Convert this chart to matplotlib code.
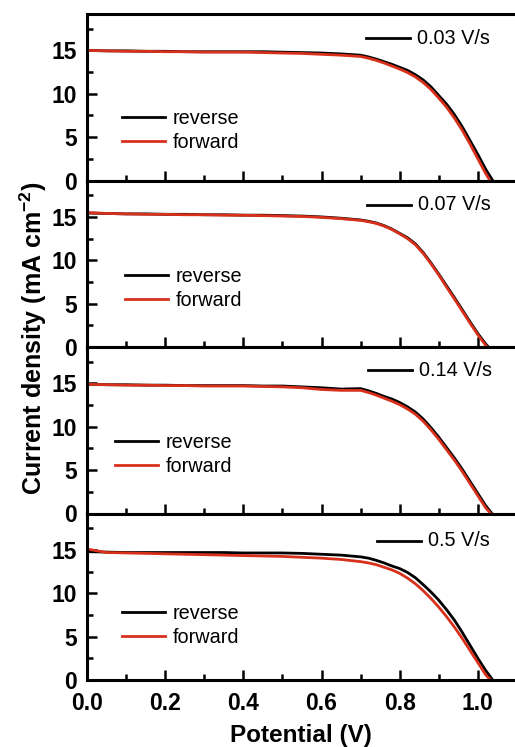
import matplotlib
matplotlib.use("Agg")
import matplotlib.pyplot as plt
from matplotlib.ticker import MultipleLocator

plt.rcParams['font.family'] = ['Liberation Sans', 'DejaVu Sans']
plt.rcParams['mathtext.fontset'] = 'custom'
plt.rcParams['mathtext.rm'] = 'Liberation Sans'
plt.rcParams['mathtext.bf'] = 'Liberation Sans:bold'

# voltage grid (V), each curve ends at its own Voc where J = 0
V = [0.00, 0.05, 0.10, 0.15, 0.20, 0.25, 0.30, 0.35, 0.40, 0.45, 0.50, 0.55, 0.60, 0.65, 0.70,
     0.72, 0.74, 0.76, 0.78, 0.80, 0.82, 0.84, 0.86, 0.88, 0.90, 0.92, 0.94, 0.96, 0.98, 1.00, 1.02]

scan_rates = ['0.03 V/s', '0.07 V/s', '0.14 V/s', '0.5 V/s']

rev_j = [
    [15.0, 14.95, 14.95, 14.9, 14.9, 14.85, 14.85, 14.85, 14.85, 14.85, 14.8, 14.75, 14.7, 14.6, 14.45,
     14.25, 14.0, 13.7, 13.4, 13.05, 12.7, 12.2, 11.6, 10.8, 9.8, 8.8, 7.6, 6.2, 4.6, 3.0, 1.3],
    [15.45, 15.4, 15.35, 15.35, 15.3, 15.3, 15.25, 15.25, 15.2, 15.2, 15.15, 15.1, 15.0, 14.85, 14.65,
     14.5, 14.3, 14.0, 13.6, 13.1, 12.6, 11.9, 10.9, 9.7, 8.4, 7.05, 5.7, 4.3, 2.9, 1.55, 0.35],
    [14.9, 14.85, 14.85, 14.8, 14.8, 14.75, 14.75, 14.75, 14.75, 14.7, 14.7, 14.6, 14.5, 14.35, 14.4,
     14.15, 13.85, 13.5, 13.2, 12.8, 12.3, 11.7, 10.9, 9.9, 8.8, 7.6, 6.4, 5.1, 3.7, 2.3, 0.9],
    [14.8, 14.75, 14.7, 14.7, 14.7, 14.7, 14.7, 14.7, 14.65, 14.65, 14.65, 14.6, 14.5, 14.4, 14.2,
     14.05, 13.8, 13.5, 13.15, 12.85, 12.4, 11.8, 11.0, 10.15, 9.2, 8.1, 6.9, 5.5, 4.0, 2.5, 1.1],
]
rev_voc = [1.038, 1.027, 1.036, 1.038]

fwd_j = [
    [15.0, 14.95, 14.9, 14.9, 14.85, 14.85, 14.8, 14.8, 14.8, 14.75, 14.7, 14.65, 14.55, 14.45, 14.3,
     14.1, 13.85, 13.55, 13.2, 12.85, 12.45, 11.95, 11.3, 10.5, 9.5, 8.45, 7.2, 5.8, 4.2, 2.5, 0.8],
    [15.5, 15.4, 15.35, 15.3, 15.3, 15.25, 15.25, 15.2, 15.2, 15.15, 15.1, 15.05, 14.95, 14.8, 14.6,
     14.45, 14.25, 13.95, 13.55, 13.05, 12.5, 11.8, 10.8, 9.6, 8.3, 6.9, 5.55, 4.15, 2.75, 1.4, 0.2],
    [14.9, 14.85, 14.8, 14.8, 14.75, 14.75, 14.7, 14.7, 14.7, 14.65, 14.6, 14.5, 14.3, 14.2, 14.2,
     13.95, 13.65, 13.3, 12.95, 12.55, 12.05, 11.45, 10.65, 9.65, 8.55, 7.35, 6.15, 4.85, 3.45, 2.05, 0.65],
    [15.1, 14.7, 14.65, 14.6, 14.55, 14.5, 14.45, 14.4, 14.35, 14.3, 14.25, 14.15, 14.05, 13.9, 13.65,
     13.5, 13.3, 13.0, 12.7, 12.3, 11.75, 11.1, 10.3, 9.4, 8.4, 7.3, 6.1, 4.8, 3.4, 2.0, 0.6],
]
fwd_voc = [1.031, 1.024, 1.033, 1.033]

red = '#d8301a'

# legend / rate-label placement per panel (axes fraction)
leg_pos = [(0.082, 0.303), (0.089, 0.351), (0.065, 0.357), (0.082, 0.327)]
rate_pos = [(0.652, 0.855), (0.655, 0.853), (0.657, 0.859), (0.678, 0.835)]

fig = plt.figure(figsize=(5.15, 7.47), dpi=100)
left, right, bottom, top = 87 / 515, 1.0, 67 / 747, 733 / 747
h = (top - bottom) / 4
axes = []
for i in range(4):
    ax = fig.add_axes([left, top - (i + 1) * h, right - left, h])
    axes.append(ax)

for i, ax in enumerate(axes):
    ax.plot(V + [rev_voc[i]], rev_j[i] + [0], color='black', lw=2.0, label='reverse')
    ax.plot(V + [fwd_voc[i]], fwd_j[i] + [0], color=red, lw=2.0, label='forward')
    ax.set_xlim(0, 1.095)
    ax.set_ylim(0, 19.2)
    ax.xaxis.set_major_locator(MultipleLocator(0.2))
    ax.xaxis.set_minor_locator(MultipleLocator(0.1))
    ax.yaxis.set_major_locator(MultipleLocator(5))
    ax.yaxis.set_minor_locator(MultipleLocator(2.5))
    ax.tick_params(which='both', direction='in', width=1.8, top=False, right=False)
    ax.tick_params(which='major', length=7.5, labelsize=16.5, pad=7)
    ax.tick_params(which='minor', length=4)
    ax.tick_params(axis='x', which='major', pad=9)
    for lab in ax.get_yticklabels() + ax.get_xticklabels():
        lab.set_fontweight('bold')
    ax.spines['right'].set_visible(False)
    for s in ['left', 'top', 'bottom']:
        ax.spines[s].set_linewidth(2.2)
    if i < 3:
        ax.tick_params(labelbottom=False)
    else:
        ax.xaxis.set_major_formatter(matplotlib.ticker.FormatStrFormatter('%.1f'))

    lx, ly = leg_pos[i]
    ax.legend(loc='center left', bbox_to_anchor=(lx, ly), frameon=False, fontsize=14.3,
              handlelength=2.15, handletextpad=0.4, labelspacing=0.25,
              borderpad=0, borderaxespad=0)

    rx, ry = rate_pos[i]
    ax.plot([rx, rx + 0.102], [ry, ry], color='black', lw=2.0, transform=ax.transAxes)
    ax.text(rx + 0.118, ry, scan_rates[i], transform=ax.transAxes, fontsize=14.3,
            va='center', ha='left')

axes[-1].set_xlabel('Potential (V)', fontsize=17.5, fontweight='bold', labelpad=6)
fig.text(33 / 515, 1 - 338 / 747, r'Current density (mA cm$\mathbf{^{-2}}$)', rotation=90,
         fontsize=18, fontweight='bold', ha='center', va='center')

fig.savefig('out.png', dpi=100)
